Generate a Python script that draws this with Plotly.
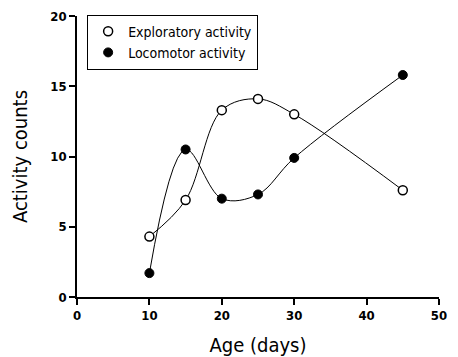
import plotly.graph_objects as go

# Age in days at each measurement
age_days = [10, 15, 20, 25, 30, 45]

# Mean activity counts per age
exploratory = [4.3, 6.9, 13.3, 14.1, 13.0, 7.6]
locomotor = [1.7, 10.5, 7.0, 7.3, 9.9, 15.8]

x_ticks = [0, 10, 20, 30, 40, 50]
y_ticks = [0, 5, 10, 15, 20]

FONT = "DejaVu Sans Condensed, Liberation Sans Narrow, sans-serif"

open_marker = dict(symbol="circle", size=9, color="white",
                   line=dict(color="black", width=1.5))
filled_marker = dict(symbol="circle", size=9, color="black",
                     line=dict(color="black", width=1))

fig = go.Figure()

fig.add_trace(go.Scatter(
    x=age_days, y=exploratory, name="Exploratory activity",
    mode="lines+markers", showlegend=False,
    line=dict(color="black", width=1, shape="spline", smoothing=1.0),
    marker=open_marker,
))
fig.add_trace(go.Scatter(
    x=age_days, y=locomotor, name="Locomotor activity",
    mode="lines+markers", showlegend=False,
    line=dict(color="black", width=1, shape="spline", smoothing=1.0),
    marker=filled_marker,
))

# Marker-only legend entries
fig.add_trace(go.Scatter(x=[None], y=[None], mode="markers",
                         name="Exploratory activity", marker=open_marker))
fig.add_trace(go.Scatter(x=[None], y=[None], mode="markers",
                         name="Locomotor activity", marker=filled_marker))

fig.update_layout(
    width=458, height=357,
    margin=dict(l=77, r=19, t=16, b=60),
    paper_bgcolor="white", plot_bgcolor="white",
    font=dict(family=FONT, color="black"),
    showlegend=True,
    legend=dict(
        x=0.028, y=1.005, xanchor="left", yanchor="top",
        bordercolor="black", borderwidth=1, bgcolor="white",
        font=dict(size=14, family=FONT),
        itemwidth=30, tracegroupgap=0,
    ),
    xaxis=dict(
        range=[0, 50], tickvals=x_ticks, automargin=False,
        showgrid=False, zeroline=False,
        showline=True, linecolor="black", linewidth=1.5,
        ticks="outside", ticklen=6, tickwidth=1.5, tickcolor="black",
        tickfont=dict(size=13, family=FONT, weight="bold"),
        title=dict(text="Age (days)", font=dict(size=20, family=FONT), standoff=20),
    ),
    yaxis=dict(
        range=[0, 20], tickvals=y_ticks, automargin=False,
        showgrid=False, zeroline=False,
        showline=True, linecolor="black", linewidth=1.5,
        ticks="outside", ticklen=6, tickwidth=1.5, tickcolor="black",
        tickfont=dict(size=13, family=FONT, weight="bold"),
        title=dict(text="Activity counts", font=dict(size=20, family=FONT), standoff=17),
    ),
)

fig.write_html("out.html")
